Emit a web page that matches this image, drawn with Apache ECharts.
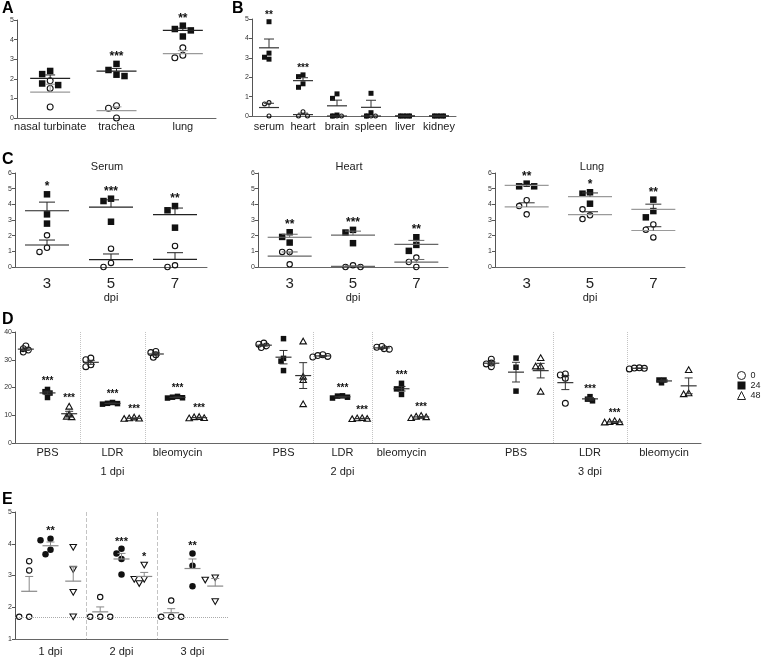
<!DOCTYPE html>
<html><head><meta charset="utf-8">
<script src="https://cdn.jsdelivr.net/npm/echarts@6/dist/echarts.min.js"></script>
<style>html,body{margin:0;padding:0;background:#fff}#c{width:763px;height:657px}</style>
</head><body><div id="c"></div>
<script>
const FONT = '"Liberation Sans", Arial, Helvetica, sans-serif';

// ---------------- Panel A ----------------
const aCategories = ['nasal turbinate', 'trachea', 'lung'];
const aInfected = [[2.40, 2.24, 1.68, 1.76], [2.76, 2.45, 2.14, 2.21], [4.54, 4.71, 4.47, 4.16]];
const aControl = [[1.90, 1.51, 0.56], [0.63, 0.50, 0.00], [3.58, 3.07, 3.20]];
const aStars = ['', '***', '**'];
const aYRange = [0, 5, 1];

// ---------------- Panel B ----------------
const bCategories = ['serum', 'heart', 'brain', 'spleen', 'liver', 'kidney'];
const bInfected = [[4.86, 3.24, 2.93, 3.03], [2.12, 2.03, 1.48, 1.66], [1.14, 0.91, 0.05, 0], [1.17, 0.17, 0], [0, 0, 0], [0, 0, 0]];
const bControl = [[0.69, 0.62, 0], [0.22, 0, 0], [0, 0, 0], [0, 0, 0], [0, 0, 0], [0, 0, 0]];
const bStars = ['**', '***', '', '', '', ''];
const bYRange = [0, 5, 1];

// ---------------- Panel C ----------------
const cDays = ['3', '5', '7'];
const cYRange = [0, 6, 1];
const serumInfected = [[4.64, 3.36, 2.77], [4.36, 4.21, 2.89], [3.89, 3.62, 2.51]];
const serumControl = [[2.02, 0.96, 1.23], [1.17, 0, 0.26], [1.34, 0, 0.11]];
const serumStars = ['*', '***', '**'];
const heartInfected = [[2.22, 1.56, 1.92], [2.20, 2.37, 1.52], [1.90, 1.41, 1.03]];
const heartControl = [[0.96, 0.96, 0.17], [0.11, 0, 0], [0.60, 0.32, 0]];
const heartStars = ['**', '***', '**'];
const lungInfected = [[5.32, 5.15, 5.15], [4.68, 4.77, 4.04], [4.30, 3.57, 3.17]];
const lungControl = [[4.26, 3.89, 3.36], [3.68, 3.06, 3.30], [2.72, 2.38, 1.89]];
const lungStars = ['**', '*', '**'];

// ---------------- Panel D ----------------
const dTreatments = ['PBS', 'LDR', 'bleomycin'];
const dHours = ['0', '24', '48'];
const dDays = ['1 dpi', '2 dpi', '3 dpi'];
const dYRange = [0, 40, 10];
const d1dpi0h = [[35.0, 34.0, 33.5, 32.8], [30.6, 30.0, 28.2, 27.5], [32.6, 33.0, 30.9, 31.8]];
const d1dpi24h = [[19.3, 18.5, 16.4, 18.0], [14.6, 14.2, 14.0, 14.3], [16.8, 16.3, 16.5, 16.2]];
const d1dpi48h = [[13.1, 10.3, 9.3, 9.5], [9.2, 8.8, 8.9, 8.7], [9.4, 9.0, 9.3, 8.9]];
const d1dpiStars24 = ['***', '***', '***'];
const d1dpiStars48 = ['***', '***', '***'];
const d2dpi0h = [[36.0, 35.6, 35.0, 34.4], [31.8, 31.2, 31.5, 31.0], [34.8, 34.5, 34.0, 33.8]];
const d2dpi24h = [[37.6, 30.5, 29.5, 26.1], [17.0, 16.5, 16.2, 16.9], [21.5, 19.7, 17.5, 19.5]];
const d2dpi48h = [[36.6, 23.9, 22.7, 14.0], [9.0, 8.7, 8.6, 8.9], [9.8, 9.5, 9.3, 9.0]];
const d2dpiStars24 = ['', '***', '***'];
const d2dpiStars48 = ['', '***', '***'];
const d3dpi0h = [[30.2, 28.8, 28.5, 27.5], [24.5, 24.9, 23.3, 14.3], [27.1, 26.9, 26.7, 27.0]];
const d3dpi24h = [[30.6, 27.3, 18.7], [16.7, 15.2, 15.8], [22.7, 22.7, 21.7]];
const d3dpi48h = [[30.6, 27.6, 27.6, 18.5], [7.9, 7.5, 7.6, 7.4], [26.3, 17.6, 17.9]];
const d3dpiStars24 = ['', '***', ''];
const d3dpiStars48 = ['', '***', ''];

// ---------------- Panel E ----------------
const eDays = ['1 dpi', '2 dpi', '3 dpi'];
const eYRange = [1, 5, 1];
const eOpen = [[3.45, 3.16, 1.7, 1.7], [2.32, 1.7, 1.7, 1.7], [2.21, 1.7, 1.7, 1.7]];
const eFilled = [[4.16, 4.11, 3.81, 3.67], [3.69, 3.84, 3.52, 3.03], [3.69, 3.31, 2.66]];
const eTriangles = [[3.9, 3.2, 2.48, 1.71], [3.34, 2.89, 2.89, 2.76], [2.94, 2.87, 2.19]];
const eFilledStars = ['**', '***', '**'];
const eTriangleStars = ['', '*', ''];
const eDetectionLimit = 1.7;

// ---------------- helpers ----------------
function mean(a) { return a.reduce((s, v) => s + v, 0) / a.length; }
function sem(a) {
  if (a.length < 2) return 0;
  const m = mean(a);
  const v = a.reduce((s, x) => s + (x - m) * (x - m), 0) / (a.length - 1);
  return Math.sqrt(v / a.length);
}
function swarm(vals, ppu, step, minDist) {
  const order = vals.map((v, i) => i).sort((a, b) => vals[b] - vals[a]);
  const placed = [], off = new Array(vals.length).fill(0);
  const lanes = [0, -1, 1, -2, 2, -3, 3, -4, 4];
  for (const i of order) {
    const y = vals[i] * ppu;
    for (const L of lanes) {
      const x = L * step;
      if (placed.every(p => Math.hypot(p.x - x, p.y - y) >= minDist)) { off[i] = x; placed.push({ x, y }); break; }
    }
  }
  return off;
}
function shapeEl(shape, x, y, s) {
  const h = s / 2, lw = 1.1;
  const open = { fill: 'rgba(255,255,255,0)', stroke: '#111', lineWidth: lw };
  switch (shape) {
    case 'square': return { type: 'rect', shape: { x: x - h, y: y - h, width: s, height: s }, style: { fill: '#111' } };
    case 'dot': return { type: 'circle', shape: { cx: x, cy: y, r: h }, style: { fill: '#111' } };
    case 'circle': return { type: 'circle', shape: { cx: x, cy: y, r: h - lw / 2 }, style: open };
    case 'triangle': return { type: 'polygon', shape: { points: [[x, y - h], [x + h, y + h * 0.75], [x - h, y + h * 0.75]] }, style: open };
    case 'triangleDown': return { type: 'polygon', shape: { points: [[x, y + h], [x + h, y - h * 0.75], [x - h, y - h * 0.75]] }, style: open };
  }
}
function ln(x1, y1, x2, y2, c, w) { return { type: 'line', shape: { x1, y1, x2, y2 }, style: { stroke: c, lineWidth: w || 1 } }; }

const grids = [], xAxes = [], yAxes = [], series = [];

function yAxisCfg(gi, r, show) {
  return {
    gridIndex: gi, type: 'value', min: r[0], max: r[1], interval: r[2], show: show,
    axisLine: { show: true, lineStyle: { color: '#555', width: 1 } },
    axisTick: { show: true, length: 3, lineStyle: { color: '#555', width: 1 } },
    axisLabel: { fontSize: 7, color: '#333', margin: 3, fontFamily: FONT },
    splitLine: { show: false }
  };
}
function xAxisCfg(gi, data, o) {
  o = o || {};
  return {
    gridIndex: gi, type: 'category', data: data, boundaryGap: true,
    axisLine: { show: o.line !== false, lineStyle: { color: '#666', width: 1 } },
    axisTick: { show: false },
    axisLabel: { show: o.labels !== false, interval: 0, fontSize: o.fontSize || 11, color: '#222', margin: o.margin || 4, fontFamily: FONT },
    splitLine: o.split ? { show: true, showMinLine: false, showMaxLine: false, lineStyle: { color: '#c4c4c4', type: o.split, width: 1 } } : { show: false },
    name: o.name || '', nameLocation: 'middle', nameGap: o.nameGap || 24,
    nameTextStyle: { fontSize: 11, color: '#222', fontFamily: FONT }
  };
}

function addDotPanel(cfg) {
  const gi = grids.length;
  grids.push(Object.assign({ containLabel: false }, cfg.grid));
  xAxes.push(xAxisCfg(gi, cfg.cats, cfg.xOpts));
  yAxes.push(yAxisCfg(gi, cfg.yRange, cfg.showY !== false));
  const ppu = cfg.grid.height / (cfg.yRange[1] - cfg.yRange[0]);
  const band = cfg.grid.width / cfg.cats.length;
  const offs = cfg.groups.map(g => g.values.map(() => []));
  for (let c = 0; c < cfg.cats.length; c++) {
    if (cfg.combine) {
      const pts = [];
      cfg.groups.forEach((g, gIdx) => g.values[c].forEach((v, k) => pts.push({ v, gIdx, k })));
      const o = swarm(pts.map(p => p.v), ppu, cfg.step, cfg.minDist);
      pts.forEach((p, j) => { offs[p.gIdx][c][p.k] = o[j]; });
    } else {
      cfg.groups.forEach((g, gIdx) => { offs[gIdx][c] = swarm(g.values[c], ppu, cfg.step, cfg.minDist); });
    }
  }
  cfg.groups.forEach((g, gIdx) => {
    const dx = (g.offsetFrac || 0) * band;
    const pts = [];
    g.values.forEach((arr, c) => arr.forEach((v, k) => pts.push([c, v, offs[gIdx][c][k]])));
    const stats = g.values.map((arr, c) => [c, mean(arr), sem(arr)]);
    const mc = g.meanColor || '#222', bc = g.barColor || mc;
    series.push({
      type: 'custom', name: g.name, xAxisIndex: gi, yAxisIndex: gi, z: 3, silent: true, data: pts,
      renderItem: (p, api) => {
        const c = api.coord([api.value(0), api.value(1)]);
        return shapeEl(g.shape, c[0] + dx + api.value(2), c[1], g.size);
      }
    });
    series.push({
      type: 'custom', name: g.name + ' mean', xAxisIndex: gi, yAxisIndex: gi, z: 4, silent: true, data: stats,
      renderItem: (p, api) => {
        const i = api.value(0), m = api.value(1), s = api.value(2);
        const c = api.coord([i, m]);
        const x = c[0] + dx;
        const ch = [ln(x - cfg.meanHalf, c[1], x + cfg.meanHalf, c[1], mc, 1.2)];
        if (s > 0) {
          const t = api.coord([i, m + s]);
          ch.push(ln(x, c[1], x, t[1], bc, 1), ln(x - cfg.capHalf, t[1], x + cfg.capHalf, t[1], bc, 1));
          if (cfg.twoSided) {
            const b = api.coord([i, m - s]);
            ch.push(ln(x, c[1], x, b[1], bc, 1), ln(x - cfg.capHalf, b[1], x + cfg.capHalf, b[1], bc, 1));
          }
        }
        return { type: 'group', children: ch };
      }
    });
    if (g.stars) {
      const sd = [];
      g.values.forEach((arr, c) => { if (g.stars[c]) sd.push([c, Math.max.apply(null, arr)]); });
      series.push({
        type: 'custom', name: g.name + ' stars', xAxisIndex: gi, yAxisIndex: gi, z: 5, silent: true, data: sd,
        renderItem: (p, api) => {
          const c = api.coord([api.value(0), api.value(1)]);
          return {
            type: 'text', x: c[0] + dx, y: c[1] - g.size / 2 - cfg.starGap,
            style: { text: g.stars[api.value(0)], fill: '#111', font: 'bold ' + cfg.starFont + 'px ' + FONT, align: 'center', verticalAlign: 'middle' }
          };
        }
      });
    }
  });
  return gi;
}

// ---- A ----
addDotPanel({
  grid: { left: 17, top: 20, width: 199, height: 98 }, cats: aCategories, yRange: aYRange,
  xOpts: { margin: 3 }, combine: true, step: 8, minDist: 7, meanHalf: 20, capHalf: 5, starFont: 12, starGap: 4,
  groups: [
    { name: 'A infected', values: aInfected, shape: 'square', size: 6.5, meanColor: '#222', stars: aStars },
    { name: 'A control', values: aControl, shape: 'circle', size: 7, meanColor: '#9a9a9a' }
  ]
});
// ---- B ----
addDotPanel({
  grid: { left: 252, top: 19, width: 204, height: 97 }, cats: bCategories, yRange: bYRange,
  xOpts: { margin: 5 }, combine: false, step: 4.5, minDist: 4.5, meanHalf: 10, capHalf: 5, starFont: 10, starGap: 4,
  groups: [
    { name: 'B infected', values: bInfected, shape: 'square', size: 5, meanColor: '#333', stars: bStars },
    { name: 'B control', values: bControl, shape: 'circle', size: 5, meanColor: '#333' }
  ]
});
// ---- C ----
const cCommon = { yRange: cYRange, cats: cDays, combine: true, step: 7.5, minDist: 7, meanHalf: 22, capHalf: 8, starFont: 12, starGap: 4 };
addDotPanel(Object.assign({}, cCommon, {
  grid: { left: 15, top: 173, width: 192, height: 94 },
  xOpts: { fontSize: 15, margin: 9, name: 'dpi', nameGap: 25 },
  groups: [
    { name: 'serum inf', values: serumInfected, shape: 'square', size: 6.5, meanColor: '#222', stars: serumStars },
    { name: 'serum ctl', values: serumControl, shape: 'circle', size: 6.5, meanColor: '#222' }
  ]
}));
addDotPanel(Object.assign({}, cCommon, {
  grid: { left: 258, top: 173, width: 190, height: 94 },
  xOpts: { fontSize: 15, margin: 9, name: 'dpi', nameGap: 25 },
  groups: [
    { name: 'heart inf', values: heartInfected, shape: 'square', size: 6.5, meanColor: '#666', stars: heartStars },
    { name: 'heart ctl', values: heartControl, shape: 'circle', size: 6.5, meanColor: '#666' }
  ]
}));
addDotPanel(Object.assign({}, cCommon, {
  grid: { left: 495, top: 173, width: 190, height: 94 },
  xOpts: { fontSize: 15, margin: 9, name: 'dpi', nameGap: 25 },
  groups: [
    { name: 'lung inf', values: lungInfected, shape: 'square', size: 6.5, meanColor: '#9a9a9a', barColor: '#333', stars: lungStars },
    { name: 'lung ctl', values: lungControl, shape: 'circle', size: 6.5, meanColor: '#9a9a9a', barColor: '#333' }
  ]
}));
// ---- D ----
const dSections = [
  { grid: { left: 15, top: 332, width: 195, height: 111 }, v0: d1dpi0h, v24: d1dpi24h, v48: d1dpi48h, s24: d1dpiStars24, s48: d1dpiStars48, showY: true },
  { grid: { left: 254, top: 332, width: 177, height: 111 }, v0: d2dpi0h, v24: d2dpi24h, v48: d2dpi48h, s24: d2dpiStars24, s48: d2dpiStars48, showY: false },
  { grid: { left: 479, top: 332, width: 222, height: 111 }, v0: d3dpi0h, v24: d3dpi24h, v48: d3dpi48h, s24: d3dpiStars24, s48: d3dpiStars48, showY: false }
];
dSections.forEach((s, k) => {
  addDotPanel({
    grid: s.grid, cats: dTreatments, yRange: dYRange, showY: s.showY,
    xOpts: { line: false, margin: 4, split: 'dotted', name: dDays[k], nameGap: 23 },
    combine: false, step: 2.5, minDist: 3.2, meanHalf: 8, capHalf: 4, twoSided: true, starFont: 10, starGap: 5,
    groups: [
      { name: dHours[0], values: s.v0, shape: 'circle', size: 7, offsetFrac: -1 / 3, meanColor: '#333' },
      { name: dHours[1], values: s.v24, shape: 'square', size: 5.5, offsetFrac: 0, meanColor: '#333', stars: s.s24 },
      { name: dHours[2], values: s.v48, shape: 'triangle', size: 6.5, offsetFrac: 1 / 3, meanColor: '#333', stars: s.s48 }
    ]
  });
});
// D baseline axis spanning all three sections
(function () {
  const gi = grids.length;
  grids.push({ left: 15, top: 332, width: 686, height: 111 });
  xAxes.push(xAxisCfg(gi, [''], { labels: false }));
  yAxes.push(yAxisCfg(gi, dYRange, false));
})();
// ---- E ----
const eGrid = addDotPanel({
  grid: { left: 15, top: 512, width: 213, height: 127 }, cats: eDays, yRange: eYRange,
  xOpts: { margin: 7, split: 'dashed' }, combine: false, step: 5, minDist: 5.5, meanHalf: 8, capHalf: 4, starFont: 11, starGap: 4,
  groups: [
    { name: 'E open', values: eOpen, shape: 'circle', size: 6.5, offsetFrac: -0.30, meanColor: '#888' },
    { name: 'E filled', values: eFilled, shape: 'dot', size: 6.5, offsetFrac: 0, meanColor: '#888', stars: eFilledStars },
    { name: 'E tri', values: eTriangles, shape: 'triangleDown', size: 6.5, offsetFrac: 0.32, meanColor: '#888', stars: eTriangleStars }
  ]
});
series.push({
  type: 'scatter', xAxisIndex: eGrid, yAxisIndex: eGrid, data: [], silent: true,
  markLine: { silent: true, symbol: ['none', 'none'], label: { show: false }, animation: false,
    lineStyle: { color: '#aaa', type: 'dotted', width: 1 }, data: [{ yAxis: eDetectionLimit }] }
});

const letter = (t, x, y) => ({ type: 'text', left: x, top: y, style: { text: t, font: 'bold 16px ' + FONT, fill: '#000' } });
const ctitle = (t, x, y) => ({ type: 'text', x: x, y: y, style: { text: t, font: '11px ' + FONT, fill: '#222', align: 'center', verticalAlign: 'middle' } });

const chart = echarts.init(document.getElementById('c'), null, { renderer: 'canvas' });
chart.setOption({
  animation: false,
  backgroundColor: '#fff',
  grid: grids, xAxis: xAxes, yAxis: yAxes, series: series,
  legend: {
    show: true, orient: 'vertical', left: 737, top: 371, itemWidth: 8, itemHeight: 8, itemGap: 1, padding: 0,
    selectedMode: false, textStyle: { fontSize: 9, color: '#222', fontFamily: FONT },
    data: [
      { name: dHours[0], icon: 'circle', itemStyle: { color: '#fff', borderColor: '#222', borderWidth: 1 } },
      { name: dHours[1], icon: 'rect', itemStyle: { color: '#111', borderWidth: 0 } },
      { name: dHours[2], icon: 'triangle', itemStyle: { color: '#fff', borderColor: '#222', borderWidth: 1 } }
    ]
  },
  graphic: [
    letter('A', 2, 1), letter('B', 232, 1), letter('C', 2, 152), letter('D', 2, 312), letter('E', 2, 492),
    ctitle('Serum', 107, 167), ctitle('Heart', 349, 167), ctitle('Lung', 592, 167)
  ]
});
</script></body></html>
